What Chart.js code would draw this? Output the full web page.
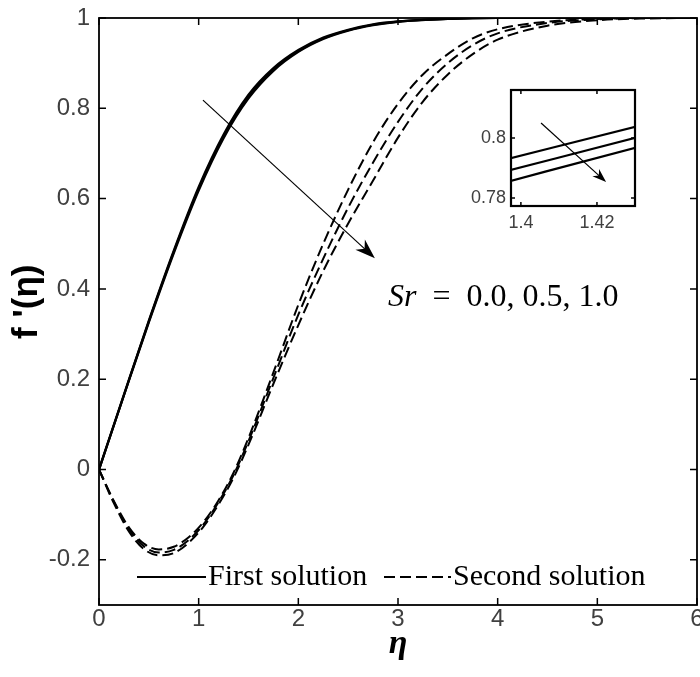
<!DOCTYPE html>
<html>
<head>
<meta charset="utf-8">
<script src="https://cdn.jsdelivr.net/npm/chart.js@4.4.1/dist/chart.umd.min.js"></script>
<style>
  body { margin: 0; background: #fff; }
  #wrap { position: relative; width: 700px; height: 677px; }
  #mainChart { position: absolute; left: 0; top: 0; }
  #insetChart { position: absolute; left: 440px; top: 70px; }
</style>
</head>
<body>
<div id="wrap">
  <canvas id="mainChart" width="700" height="677"></canvas>
  <canvas id="insetChart" width="220" height="170"></canvas>
</div>
<script>
// eta values
const etaFirst = [0, 0.25, 0.5, 0.75, 1, 1.25, 1.5, 1.75, 2, 2.25, 2.5, 2.75, 3, 3.5, 4, 5, 6];
const etaSecond = [0, 0.15, 0.3, 0.45, 0.6, 0.75, 0.9, 1.05, 1.2, 1.35, 1.5, 1.75, 2, 2.25, 2.5, 2.75, 3, 3.25, 3.5, 3.75, 4, 4.5, 5, 5.5, 6];

// first solution f'(eta), Sr = 0.0, 0.5, 1.0
const firstSr0 = [0, 0.166, 0.330, 0.485, 0.626, 0.742, 0.830, 0.889, 0.929, 0.9565, 0.974, 0.986, 0.9925, 0.998, 1, 1, 1];
const firstSr05 = [0, 0.165, 0.328, 0.482, 0.622, 0.738, 0.826, 0.886, 0.927, 0.955, 0.973, 0.985, 0.992, 0.998, 1, 1, 1];
const firstSr1 = [0, 0.164, 0.326, 0.479, 0.618, 0.734, 0.822, 0.883, 0.925, 0.9535, 0.972, 0.984, 0.9915, 0.998, 1, 1, 1];

// second solution f'(eta), Sr = 0.0, 0.5, 1.0
const secondSr0 = [0, -0.07, -0.128, -0.164, -0.177, -0.171, -0.15, -0.116, -0.068, -0.007, 0.07, 0.215, 0.365, 0.5, 0.62, 0.725, 0.81, 0.875, 0.92, 0.955, 0.975, 0.992, 0.998, 1, 1];
const secondSr05 = [0, -0.072, -0.132, -0.17, -0.184, -0.178, -0.156, -0.121, -0.072, -0.012, 0.063, 0.203, 0.343, 0.467, 0.58, 0.68, 0.77, 0.845, 0.9, 0.94, 0.966, 0.989, 0.997, 1, 1];
const secondSr1 = [0, -0.075, -0.137, -0.176, -0.19, -0.185, -0.162, -0.126, -0.077, -0.018, 0.055, 0.19, 0.32, 0.44, 0.545, 0.64, 0.735, 0.815, 0.875, 0.92, 0.952, 0.983, 0.995, 0.999, 1];

// zoomed inset (first solution near eta = 1.4)
const insetEta = [1.39, 1.44];
const insetSr0 = [0.7909, 0.8069];
const insetSr05 = [0.7869, 0.8033];
const insetSr1 = [0.7832, 0.8001];

const xTicks = [0, 1, 2, 3, 4, 5, 6];
const yTicks = [-0.2, 0, 0.2, 0.4, 0.6, 0.8, 1];
const insetXTicks = [1.4, 1.42];
const insetYTicks = [0.78, 0.8];

const toPoints = (xs, ys) => xs.map((x, i) => ({ x: x, y: ys[i] }));

function solid(data) {
  return {
    data: data, borderColor: "#000", borderWidth: 2.2,
    pointRadius: 0, fill: false, cubicInterpolationMode: "monotone"
  };
}
function dashed(data) {
  return {
    data: data, borderColor: "#000", borderWidth: 2,
    borderDash: [11, 5], pointRadius: 0, fill: false,
    cubicInterpolationMode: "monotone"
  };
}

// frame, inward ticks, arrows, legend, text
const decor = {
  id: "decor",
  beforeDatasetsDraw(chart, args, opts) {
    if (opts.fillArea) {
      const a = chart.chartArea, ctx = chart.ctx;
      ctx.save();
      ctx.fillStyle = "#fff";
      ctx.fillRect(a.left, a.top, a.right - a.left, a.bottom - a.top);
      ctx.restore();
    }
  },
  afterDraw(chart, args, opts) {
    const ctx = chart.ctx, a = chart.chartArea;
    const xs = chart.scales.x, ys = chart.scales.y;
    ctx.save();
    ctx.strokeStyle = "#000";
    ctx.lineWidth = opts.frameWidth;
    ctx.setLineDash([]);
    ctx.strokeRect(a.left, a.top, a.right - a.left, a.bottom - a.top);
    const t = opts.tickLen;
    ctx.lineWidth = 1.5;
    ctx.beginPath();
    xs.ticks.forEach(tk => {
      const px = xs.getPixelForValue(tk.value);
      ctx.moveTo(px, a.bottom); ctx.lineTo(px, a.bottom - t);
      ctx.moveTo(px, a.top); ctx.lineTo(px, a.top + t);
    });
    ys.ticks.forEach(tk => {
      const py = ys.getPixelForValue(tk.value);
      ctx.moveTo(a.left, py); ctx.lineTo(a.left + t, py);
      ctx.moveTo(a.right, py); ctx.lineTo(a.right - t, py);
    });
    ctx.stroke();

    (opts.arrows || []).forEach(ar => {
      const x1 = xs.getPixelForValue(ar[0]), y1 = ys.getPixelForValue(ar[1]);
      const x2 = xs.getPixelForValue(ar[2]), y2 = ys.getPixelForValue(ar[3]);
      const ang = Math.atan2(y2 - y1, x2 - x1);
      const L = ar[4], W = ar[5];
      ctx.lineWidth = 1.2;
      ctx.beginPath();
      ctx.moveTo(x1, y1);
      ctx.lineTo(x2 - Math.cos(ang) * L * 0.6, y2 - Math.sin(ang) * L * 0.6);
      ctx.stroke();
      ctx.fillStyle = "#000";
      ctx.beginPath();
      ctx.moveTo(x2, y2);
      ctx.lineTo(x2 - Math.cos(ang) * L + Math.sin(ang) * W, y2 - Math.sin(ang) * L - Math.cos(ang) * W);
      ctx.lineTo(x2 - Math.cos(ang) * L * 0.7, y2 - Math.sin(ang) * L * 0.7);
      ctx.lineTo(x2 - Math.cos(ang) * L - Math.sin(ang) * W, y2 - Math.sin(ang) * L + Math.cos(ang) * W);
      ctx.closePath();
      ctx.fill();
    });

    if (opts.legend) {
      const ly = 577;
      ctx.lineWidth = 2;
      ctx.beginPath();
      ctx.moveTo(137, ly); ctx.lineTo(206, ly);
      ctx.stroke();
      ctx.setLineDash([11, 5]);
      ctx.beginPath();
      ctx.moveTo(384, ly); ctx.lineTo(451, ly);
      ctx.stroke();
      ctx.setLineDash([]);
      ctx.fillStyle = "#000";
      ctx.font = "30px 'Liberation Serif'";
      ctx.textBaseline = "middle";
      ctx.textAlign = "left";
      ctx.fillText("First solution", 208, ly);
      ctx.fillText("Second solution", 453, ly);
    }

    if (opts.label) {
      const px = xs.getPixelForValue(2.9), py = ys.getPixelForValue(0.38);
      ctx.fillStyle = "#000";
      ctx.textBaseline = "middle";
      ctx.textAlign = "left";
      ctx.font = "italic 32px 'Liberation Serif'";
      ctx.fillText("Sr", px, py);
      const w = ctx.measureText("Sr").width;
      ctx.font = "32px 'Liberation Serif'";
      ctx.fillText("  =  0.0, 0.5, 1.0", px + w, py);
    }
    ctx.restore();
  }
};

new Chart(document.getElementById("mainChart").getContext("2d"), {
  type: "line",
  data: {
    datasets: [
      solid(toPoints(etaFirst, firstSr0)),
      solid(toPoints(etaFirst, firstSr05)),
      solid(toPoints(etaFirst, firstSr1)),
      dashed(toPoints(etaSecond, secondSr0)),
      dashed(toPoints(etaSecond, secondSr05)),
      dashed(toPoints(etaSecond, secondSr1))
    ]
  },
  options: {
    responsive: false,
    animation: false,
    devicePixelRatio: 1,
    layout: { padding: { top: 18, right: 3, left: 0, bottom: 0 } },
    plugins: {
      legend: { display: false },
      tooltip: { enabled: false },
      decor: {
        frameWidth: 1.8, tickLen: 7, legend: true, label: true,
        arrows: [[1.043, 0.818, 2.768, 0.468, 20, 7]]
      }
    },
    scales: {
      x: {
        type: "linear", min: 0, max: 6,
        afterBuildTicks: s => { s.ticks = xTicks.map(v => ({ value: v })); },
        afterFit: s => { s.height = 72; s.paddingLeft = 0; s.paddingRight = 0; },
        grid: { display: false, drawTicks: false },
        border: { display: false },
        ticks: {
          color: "#404040", padding: 0, maxRotation: 0,
          font: { family: "'Liberation Sans'", size: 24 }
        },
        title: {
          display: true, text: "η", color: "#000",
          font: { family: "'Liberation Serif'", size: 34, style: "italic", weight: "bold" },
          padding: { top: 0, bottom: 12 }
        }
      },
      y: {
        type: "linear", min: -0.3, max: 1,
        afterBuildTicks: s => { s.ticks = yTicks.map(v => ({ value: v })); },
        afterFit: s => { s.width = 99; s.paddingTop = 0; s.paddingBottom = 0; },
        grid: { display: false, drawTicks: false },
        border: { display: false },
        ticks: {
          color: "#404040", padding: 9,
          font: { family: "'Liberation Sans'", size: 24 },
          callback: v => String(v)
        },
        title: {
          display: true, text: "  f '(η)", color: "#000",
          font: { family: "'Liberation Sans'", size: 35, weight: "bold" },
          padding: { top: 6, bottom: 0 }
        }
      }
    }
  },
  plugins: [decor]
});

new Chart(document.getElementById("insetChart").getContext("2d"), {
  type: "line",
  data: {
    datasets: [
      solid(toPoints(insetEta, insetSr0)),
      solid(toPoints(insetEta, insetSr05)),
      solid(toPoints(insetEta, insetSr1))
    ]
  },
  options: {
    responsive: false,
    animation: false,
    devicePixelRatio: 1,
    layout: { padding: { top: 20, right: 25, left: 0, bottom: 0 } },
    plugins: {
      legend: { display: false },
      tooltip: { enabled: false },
      decor: {
        fillArea: true, frameWidth: 2.2, tickLen: 4,
        arrows: [[1.4053, 0.805, 1.4224, 0.7853, 14, 5]]
      }
    },
    scales: {
      x: {
        type: "linear", min: 1.3974, max: 1.43,
        afterBuildTicks: s => { s.ticks = insetXTicks.map(v => ({ value: v })); },
        afterFit: s => { s.height = 34; s.paddingLeft = 0; s.paddingRight = 0; },
        grid: { display: false, drawTicks: false },
        border: { display: false },
        ticks: {
          color: "#404040", padding: 6, maxRotation: 0,
          font: { family: "'Liberation Sans'", size: 18 },
          callback: v => String(v)
        }
      },
      y: {
        type: "linear", min: 0.7773, max: 0.816,
        afterBuildTicks: s => { s.ticks = insetYTicks.map(v => ({ value: v })); },
        afterFit: s => { s.width = 71; s.paddingTop = 0; s.paddingBottom = 0; },
        grid: { display: false, drawTicks: false },
        border: { display: false },
        ticks: {
          color: "#404040", padding: 5,
          font: { family: "'Liberation Sans'", size: 18 },
          callback: v => String(v)
        }
      }
    }
  },
  plugins: [decor]
});
</script>
</body>
</html>
